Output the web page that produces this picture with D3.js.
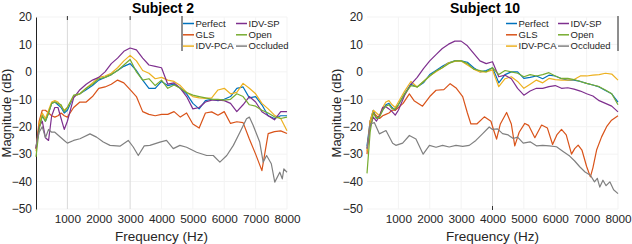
<!DOCTYPE html>
<meta charset="utf-8">
<style>
	body { margin: 0; background: #fff; }
	svg { display: block; font-family: "Liberation Sans", Arial, sans-serif; }
</style>
<body>
<script src="https://cdn.jsdelivr.net/npm/d3@7"></script>
<script>

	//Shared frequency grid (Hz)
	var freqs = [0,100,200,300,400,500,600,700,800,900,1000,
		1200,1400,1600,1800,2000,2200,2400,2600,2800,3000,
		3200,3400,3600,3800,4000,4200,4400,4600,4800,5000,
		5200,5400,5600,5800,6000,6200,6400,6600,6800,7000,
		7200,7400,7600,7800,8000];

	//Subject 2 (dB)
	var s2Perfect = [-28,-20,-16,-18,-15,-11.5,-11,-12,-13,-15,-14,
		-9,-8,-6.5,-5,-3,-2,-1,0.5,2,3,
		0.5,-3,-6,-6,-3.5,-5,-4.5,-6,-8,-11.5,
		-13.5,-10.5,-10,-10.5,-10,-9,-6,-5.5,-9.5,-9,
		-12,-16,-17,-16,-16];
	var s2Gls = [-28,-18,-14,-14,-15,-16,-16.5,-16,-15,-16,-16.5,
		-13,-11,-11,-9,-6,-5.5,-4.5,-3,-4,-6.5,
		-9,-14.5,-15.5,-16,-15.5,-15.5,-14.5,-16.5,-15,-19,
		-20.5,-15,-14.6,-15.8,-14.5,-18.8,-18.2,-18.5,-24.5,-30,
		-36,-22.5,-21.8,-21.5,-22.5];
	var s2Pca = [-29,-19,-15,-17,-14,-11,-10.5,-11,-12.5,-14,-13,
		-9,-8,-6,-4,-2,-1.5,-0.5,1.5,4,6,
		4,0.5,-0.5,-2.5,-2,-3,-3.5,-5,-7.5,-9,
		-9.5,-9.7,-9.5,-6.6,-6,-8,-7.5,-4.2,-6,-8,
		-11.5,-13.5,-15.8,-17,-21.5];
	var s2Sp = [-28,-20,-18,-24,-25,-16,-13,-13,-17,-21,-18,
		-9.5,-6.5,-4.5,-3,-2,0,3,5,7.5,8.7,
		8,5,2.5,2,1.5,-4.5,-4,-6,-9,-13.5,
		-13,-11,-10.3,-10.3,-10.5,-11.5,-14.5,-12,-9,-11,
		-14.5,-16,-17.5,-14.5,-14.5];
	var s2Open = [-31,-21,-16,-18,-15,-11.5,-11,-11.5,-12,-14.5,-13,
		-8.5,-8,-6,-4.5,-2.5,-2,-1,0.5,2.5,4.5,
		0,-3,-2.5,-5,-3,-6,-4.8,-6,-7.5,-8.5,
		-9,-9.5,-10,-10,-10.3,-10,-8,-9,-12,-12.5,
		-14,-15,-16.4,-17,-16.5];
	var s2OccFreqs = [0,100,200,300,400,500,600,700,800,900,1000,1200,1400,1720,1930,
		2145,2360,2675,2940,3100,3260,3450,3630,3950,4160,4375,4585,4800,5120,5440,
		5650,5860,6080,6290,6500,6710,6800,6920,7130,7240,7350,7500,7610,7770,7850,7900,8000];
	var s2Occ = [-27,-22,-20,-24,-21,-22,-22,-23,-24,-25,-26,-25,-24.4,-22.6,-23.8,
		-25.6,-26.8,-27.1,-25,-27.4,-30.5,-27,-26.8,-25.6,-25,-28,-26.8,-27.5,-29.3,-30.5,
		-30.5,-32.9,-30.5,-26.8,-22,-17.1,-16.5,-19.5,-25.6,-32.9,-30.5,-33.5,-40.2,-36.6,-39,-35.4,-36.6];

	//Subject 10 (dB)
	var s10Perfect = [-27,-18,-14,-17,-16,-14,-12,-11.5,-13,-14,-12,
		-8,-4.5,-5.5,-4,-1,0.5,2,3.3,4,4,
		3.5,1.5,0,0.5,1.5,-4,-1,0,0,-2.4,
		-2,-1.5,-2.5,-1.2,-1.5,-2.5,-3,-3,-3.5,-4.2,
		-4.8,-5.5,-6.8,-8,-11];
	var s10GlsFreqs = [0,100,200,300,400,500,600,700,800,900,1000,1150,1350,1500,1770,
		2000,2200,2450,2650,2850,3050,3200,3312,3500,3740,3950,4030,4130,4250,4450,
		4600,4710,4850,5030,5150,5350,5565,5750,5915,6050,6200,6350,6518,6620,6730,
		6850,7000,7120,7200,7318,7477,7637,7795,8000];
	var s10Gls = [-30,-18,-15,-16,-17,-16,-15.5,-15,-14,-14,-13,-11.5,-8,-10.5,-12.5,
		-9,-6.7,-6.5,-4.3,-6,-9,-15,-19,-19,-16.4,-18,-21,-24.5,-19,-14.8,
		-19,-27,-22,-18.8,-19.5,-24,-19.4,-20.5,-26.5,-23,-21,-23,-30,-28,-26.7,
		-28.5,-34.5,-38.3,-35,-28.5,-23.7,-20,-17.6,-16];
	var s10Pca = [-29,-18,-14,-15,-16,-13,-11,-10.5,-12,-13,-11,
		-7,-3.5,-5.5,-3.5,-1.5,0,1.5,3.3,3.8,4,
		2.5,1,0,0,0.7,-5.4,-2.5,-1.8,-3.5,-6,
		-4.5,-3,-4,-2.4,-2.8,-3,-3,-2.8,-1.5,-1.5,
		-1.2,-1,-0.5,-0.8,-3];
	var s10Sp = [-28,-20,-16.5,-18,-16,-13,-12.7,-13.5,-14.5,-15.8,-14,
		-8.5,-4.6,-2,1.2,4,6.3,8.5,10.1,11.2,11.2,
		9.5,6.7,4,3,3.7,-1.8,-1.2,-2.5,-6,-8.5,
		-7,-6,-6,-5.4,-5,-6,-5.8,-6.3,-7,-8,
		-8.8,-10.5,-11.5,-12.5,-14.6];
	var s10Open = [-37,-22,-15,-17,-16.5,-14,-12.5,-12,-13.5,-13.5,-12,
		-8,-5,-5.5,-3.5,-1.5,0.3,1.5,3,4,4,
		3,1,0.5,0,1.5,-1,0.5,0,-0.5,-1.8,
		-1,-1.5,-1,-0.3,-1.5,-2.4,-2.4,-2.8,-3.5,-4.2,
		-4.8,-5.4,-6.6,-8,-12];
	var s10OccFreqs = [0,100,233,394,605,817,920,1136,1350,1560,1790,1990,2200,2410,2620,
		2835,3050,3260,3470,3680,3895,4000,4160,4320,4500,4660,4800,4980,5200,5410,
		5600,5810,6040,6250,6460,6620,6780,6950,7120,7250,7340,7420,7520,7620,7740,7860,8000];
	var s10Occ = [-28,-19,-18.5,-22.6,-21.4,-26,-26.8,-26,-23.2,-24.5,-30,-26.8,-27.5,-26.8,-27.4,
		-26.8,-27.2,-26.8,-25,-22.6,-20.1,-21,-20.8,-22.5,-23,-24.3,-23.8,-26,-25.5,-27,
		-26.8,-27,-27.3,-29,-30.7,-32.5,-34.6,-36.5,-37.7,-40.1,-38.8,-42,-39.5,-41.5,-40.1,-43,-44.4];

	//Axis ticks
	var xTicks = [1000,2000,3000,4000,5000,6000,7000,8000];
	var yTicks = [20,10,0,-10,-20,-30,-40,-50];

	var colors = {
		"Perfect": "#0072BD",
		"GLS": "#D95319",
		"IDV-PCA": "#EDB120",
		"IDV-SP": "#7E2F8E",
		"Open": "#77AC30",
		"Occluded": "#808080"
	};

	var svg = d3.select("body").append("svg")
		.attr("width", 632)
		.attr("height", 244);

	function drawPanel(p) {
		var x = d3.scaleLinear().domain([0, 8000]).range([p.left, p.right]);
		var y = d3.scaleLinear().domain([-50, 20]).range([209, 17]);
		var g = svg.append("g");

		//faint grid
		g.selectAll("line.hg").data(yTicks).enter().append("line")
			.attr("x1", p.left).attr("x2", p.right)
			.attr("y1", function(d) { return y(d); })
			.attr("y2", function(d) { return y(d); })
			.attr("stroke", "#f3f3f3");
		g.selectAll("line.vg").data(xTicks).enter().append("line")
			.attr("x1", function(d) { return x(d); })
			.attr("x2", function(d) { return x(d); })
			.attr("y1", y(20)).attr("y2", y(-50))
			.attr("stroke", function(d) { return p.grid.indexOf(d) >= 0 ? "#d9d9d9" : "#f3f3f3"; });
		//dark tick marks on the stronger grid lines
		g.selectAll("line.tk").data(p.grid).enter().append("line")
			.attr("x1", function(d) { return x(d); })
			.attr("x2", function(d) { return x(d); })
			.attr("y1", p.tickTop ? y(20) - 1 : y(-50) - 3)
			.attr("y2", p.tickTop ? y(20) + 3 : y(-50) + 1)
			.attr("stroke", "#333");

		//axes
		var yAxis = g.append("g")
			.attr("transform", "translate(" + p.left + ",0)")
			.call(d3.axisLeft(y).tickValues(yTicks).tickSize(0).tickPadding(4));
		yAxis.select(".domain").attr("stroke", p.axisLine ? "#222" : "none");
		yAxis.selectAll("text").attr("font-size", "12px").attr("fill", "#262626")
			.attr("font-family", "Liberation Sans, Arial, sans-serif");

		var xAxis = g.append("g")
			.attr("transform", "translate(0,209)")
			.call(d3.axisBottom(x).tickValues(xTicks).tickFormat(d3.format("d"))
				.tickSize(0).tickPadding(6));
		xAxis.select(".domain").remove();
		xAxis.selectAll("text").attr("font-size", "11.8px").attr("fill", "#262626")
			.attr("font-family", "Liberation Sans, Arial, sans-serif");

		//lines
		var line = d3.line()
			.x(function(d) { return x(d[0]); })
			.y(function(d) { return y(d[1]); });
		p.series.forEach(function(s) {
			g.append("path")
				.datum(d3.zip(s.f, s.v))
				.attr("fill", "none")
				.attr("stroke", colors[s.name])
				.attr("stroke-width", 1.2)
				.attr("stroke-linejoin", "round")
				.attr("d", line);
		});

		//titles
		g.append("text")
			.attr("x", p.titleX).attr("y", 13)
			.attr("text-anchor", "middle")
			.attr("font-size", "14px").attr("font-weight", "bold")
			.attr("fill", "#000")
			.text(p.title);
		g.append("text")
			.attr("x", (p.left + p.right) / 2).attr("y", 241)
			.attr("text-anchor", "middle")
			.attr("font-size", "13.5px").attr("fill", "#262626")
			.text("Frequency (Hz)");
		g.append("text")
			.attr("transform", "translate(" + p.yLabelX + ",113) rotate(-90)")
			.attr("text-anchor", "middle")
			.attr("font-size", "13px").attr("fill", "#262626")
			.text("Magnitude (dB)");

		//legend
		var names = ["Perfect", "GLS", "IDV-PCA", "IDV-SP", "Open", "Occluded"];
		var leg = g.selectAll("g.leg").data(names).enter().append("g")
			.attr("transform", function(d, i) {
				var col = Math.floor(i / 3), row = i % 3;
				return "translate(" + p.legCols[col] + "," + (23.5 + row * 11.3) + ")";
			});
		leg.append("line")
			.attr("x1", 0).attr("x2", 11)
			.attr("stroke", function(d) { return colors[d]; })
			.attr("stroke-width", 1.5);
		leg.append("text")
			.attr("x", 12.5).attr("y", 3.3)
			.attr("font-size", "9.5px").attr("fill", "#262626")
			.text(function(d) { return d; });
		g.append("line")
			.attr("x1", p.legBorder).attr("x2", p.legBorder)
			.attr("y1", 16).attr("y2", 51)
			.attr("stroke", "#222");
	}

	drawPanel({
		left: 36, right: 287, title: "Subject 2", titleX: 163, yLabelX: 11,
		grid: [1000, 3000], tickTop: true, axisLine: true,
		legCols: [183, 236], legBorder: 182,
		series: [
			{name: "Perfect", f: freqs, v: s2Perfect},
			{name: "GLS", f: freqs, v: s2Gls},
			{name: "IDV-PCA", f: freqs, v: s2Pca},
			{name: "IDV-SP", f: freqs, v: s2Sp},
			{name: "Open", f: freqs, v: s2Open},
			{name: "Occluded", f: s2OccFreqs, v: s2Occ}
		]
	});

	drawPanel({
		left: 367, right: 618, title: "Subject 10", titleX: 485, yLabelX: 341,
		grid: [4000], tickTop: false, axisLine: false,
		legCols: [506, 558], legBorder: 618,
		series: [
			{name: "Perfect", f: freqs, v: s10Perfect},
			{name: "GLS", f: s10GlsFreqs, v: s10Gls},
			{name: "IDV-PCA", f: freqs, v: s10Pca},
			{name: "IDV-SP", f: freqs, v: s10Sp},
			{name: "Open", f: freqs, v: s10Open},
			{name: "Occluded", f: s10OccFreqs, v: s10Occ}
		]
	});

</script>
</body>
